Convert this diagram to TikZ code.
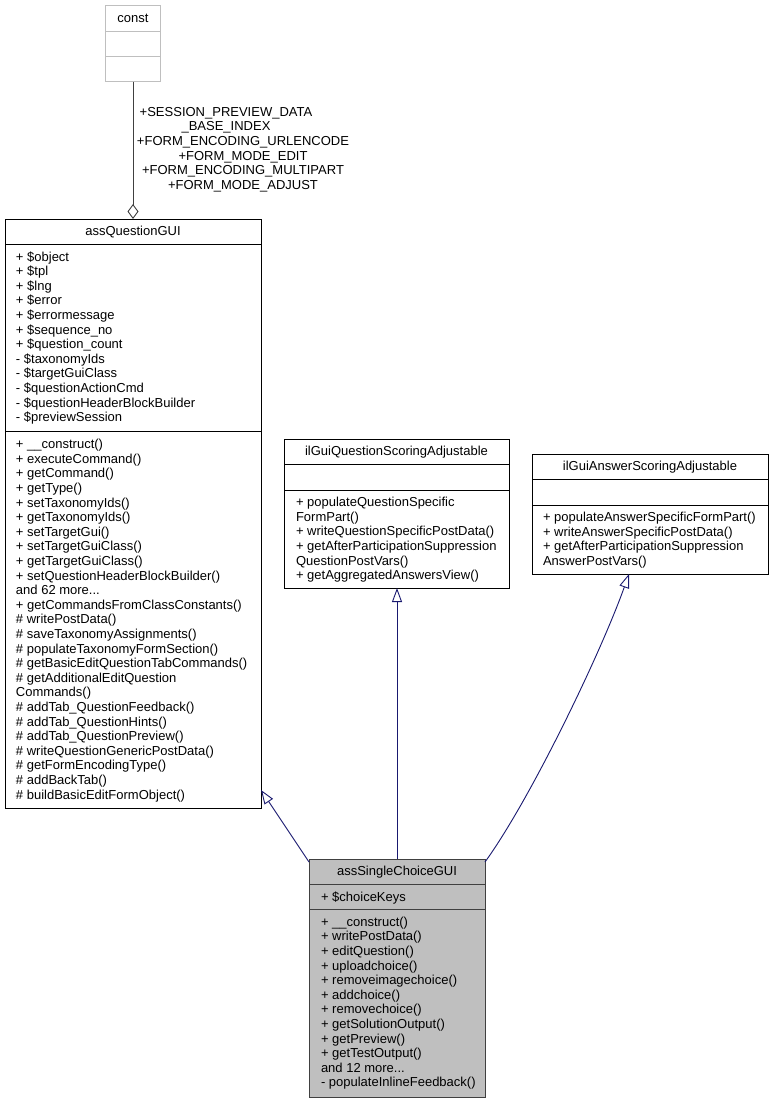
\documentclass[tikz,border=0pt]{standalone}
\usepackage{fontspec}
\setmainfont{Liberation Sans}
\usetikzlibrary{arrows.meta}
\definecolor{edgeblue}{HTML}{191970}
\definecolor{grayfill}{HTML}{BFBFBF}
\definecolor{darkline}{HTML}{404040}
\definecolor{constline}{HTML}{BFBFBF}
\newcommand\tdots{...}
\tikzset{
  umlbox/.style={draw=black, line width=0.9pt, inner sep=0pt, outer sep=0pt, anchor=north west},
  sepline/.style={draw=black, line width=0.9pt},
  member/.style={font=\fontsize{13pt}{14.6pt}\selectfont, inner sep=0pt, outer sep=0pt, anchor=base west},
  ctitle/.style={font=\fontsize{13pt}{14.6pt}\selectfont, inner sep=0pt, outer sep=0pt, anchor=base},
  elabel/.style={font=\fontsize{13pt}{14.6pt}\selectfont, inner sep=0pt, outer sep=0pt, anchor=base},
  inherit/.style={draw=edgeblue, line width=0.9pt, -{Triangle[open, length=14pt, width=10pt]}},
  aggreg/.style={draw=darkline, line width=0.9pt, -{Diamond[open, length=15pt, width=11pt]}}
}
\newcommand\classlines[4]{%
  \foreach \t [count=\i from 0] in {#4} {
    \node[member] (#1-\i) at (#2, {#3+4.6+\i*14.6}) {\t};
  }%
}
\begin{document}
\begin{tikzpicture}[x=1pt,y=-1pt]
\useasboundingbox (0,0) rectangle (774,1103);
\fill[white] (0,0) rectangle (774,1103);

% ---- const
\node[umlbox, draw=constline, minimum width=55pt, minimum height=76pt] (const) at (105.5,5.5) {};
\draw[constline, line width=0.9pt] (const.west |- 0,31.5) -- (const.east |- 0,31.5);
\draw[constline, line width=0.9pt] (const.west |- 0,56.5) -- (const.east |- 0,56.5);
\node[ctitle] (const-t) at (133,22.6) {const};

% ---- assQuestionGUI
\node[umlbox, minimum width=256pt, minimum height=589pt] (aqg) at (5,219) {};
\draw[sepline] (aqg.west |- 0,244) -- (aqg.east |- 0,244);
\draw[sepline] (aqg.west |- 0,431) -- (aqg.east |- 0,431);
\node[ctitle] (aqg-t) at (133,235) {assQuestionGUI};
\classlines{aqga}{16}{256.5}{+ \$object,+ \$tpl,+ \$lng,+ \$error,+ \$errormessage,+ \$sequence\_no,+ \$question\_count,- \$taxonomyIds,- \$targetGuiClass,- \$questionActionCmd,- \$questionHeaderBlockBuilder,- \$previewSession}
\classlines{aqgm}{16}{444}{+ \_\_construct(),+ executeCommand(),+ getCommand(),+ getType(),+ setTaxonomyIds(),+ getTaxonomyIds(),+ setTargetGui(),+ setTargetGuiClass(),+ getTargetGuiClass(),+ setQuestionHeaderBlockBuilder(),and 62 more\tdots,+ getCommandsFromClassConstants(),\# writePostData(),\# saveTaxonomyAssignments(),\# populateTaxonomyFormSection(),\# getBasicEditQuestionTabCommands(),\# getAdditionalEditQuestion,Commands(),\# addTab\_QuestionFeedback(),\# addTab\_QuestionHints(),\# addTab\_QuestionPreview(),\# writeQuestionGenericPostData(),\# getFormEncodingType(),\# addBackTab(),\# buildBasicEditFormObject()}

% ---- ilGuiQuestionScoringAdjustable
\node[umlbox, minimum width=225pt, minimum height=149pt] (iqs) at (284,439) {};
\draw[sepline] (iqs.west |- 0,464) -- (iqs.east |- 0,464);
\draw[sepline] (iqs.west |- 0,490) -- (iqs.east |- 0,490);
\node[ctitle] (iqs-t) at (396.5,455.5) {ilGuiQuestionScoringAdjustable};
\classlines{iqsm}{296}{502}{+ populateQuestionSpecific,FormPart(),+ writeQuestionSpecificPostData(),+ getAfterParticipationSuppression,QuestionPostVars(),+ getAggregatedAnswersView()}

% ---- ilGuiAnswerScoringAdjustable
\node[umlbox, minimum width=236pt, minimum height=120pt] (ias) at (532,454) {};
\draw[sepline] (ias.west |- 0,479) -- (ias.east |- 0,479);
\draw[sepline] (ias.west |- 0,505) -- (ias.east |- 0,505);
\node[ctitle] (ias-t) at (650,470.6) {ilGuiAnswerScoringAdjustable};
\classlines{iasm}{543}{517}{+ populateAnswerSpecificFormPart(),+ writeAnswerSpecificPostData(),+ getAfterParticipationSuppression,AnswerPostVars()}

% ---- assSingleChoiceGUI
\node[umlbox, draw=darkline, fill=grayfill, minimum width=176pt, minimum height=238pt] (asc) at (309,859) {};
\draw[sepline, darkline] (asc.west |- 0,884) -- (asc.east |- 0,884);
\draw[sepline, darkline] (asc.west |- 0,909) -- (asc.east |- 0,909);
\node[ctitle] (asc-t) at (397,875.6) {assSingleChoiceGUI};
\classlines{asca}{321}{896.7}{+ \$choiceKeys}
\classlines{ascm}{321}{921.7}{+ \_\_construct(),+ writePostData(),+ editQuestion(),+ uploadchoice(),+ removeimagechoice(),+ addchoice(),+ removechoice(),+ getSolutionOutput(),+ getPreview(),+ getTestOutput(),and 12 more\tdots,- populateInlineFeedback()}

% ---- edges
\draw[aggreg] (const.south) -- (aqg.north);
\node[elabel] (l1) at (226,116.3) {+SESSION\_PREVIEW\_DATA};
\node[elabel] (l2) at (226,130.9) {\_BASE\_INDEX};
\node[elabel] (l3) at (243,145.5) {+FORM\_ENCODING\_URLENCODE};
\node[elabel] (l4) at (243,160.1) {+FORM\_MODE\_EDIT};
\node[elabel] (l5) at (243,174.7) {+FORM\_ENCODING\_MULTIPART};
\node[elabel] (l6) at (243,189.3) {+FORM\_MODE\_ADJUST};

\draw[inherit] ([yshift=-3pt]asc.north west) -- ([yshift=18pt]aqg.south east);
\draw[inherit] (asc.north) -- (asc.north |- iqs.south);
\draw[inherit] ([yshift=-3pt]asc.north east) .. controls (530,800) and (600,655) .. ([xshift=-21pt]ias.south);
\end{tikzpicture}
\end{document}
